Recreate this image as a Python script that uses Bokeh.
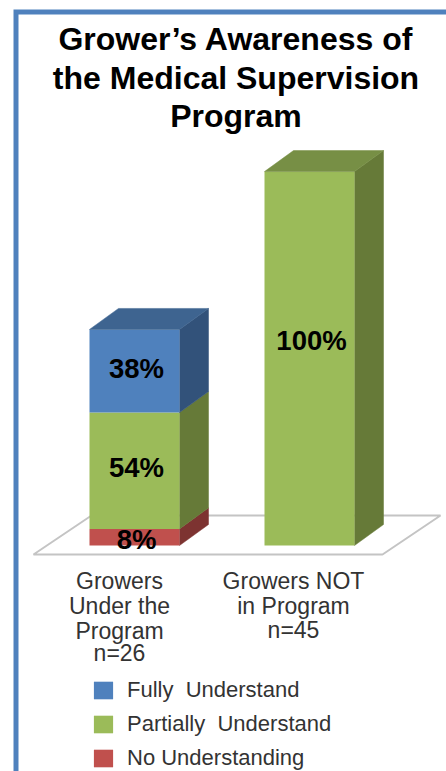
from bokeh.plotting import figure
from bokeh.models import Range1d, Legend, LegendItem
from bokeh.core.properties import value
from bokeh.embed import file_html
from bokeh.resources import INLINE

# ---- data (bar heights are grower counts; labels are shares of each group)
categories = ["Growers Under the Program n=26", "Growers NOT in Program n=45"]
no_understanding = [2, 0]
partially = [14, 45]
fully = [10, 0]
share_no = ["8%", ""]
share_part = ["54%", "100%"]
share_full = ["38%", ""]
title_lines = ["Grower\u2019s Awareness of", "the Medical Supervision", "Program"]
cat_label_lines = [["Growers", "Under the", "Program", "n=26"], ["Growers NOT", "in Program", "n=45"]]
legend_labels = ["Fully  Understand", "Partially  Understand", "No Understanding"]

# ---- layout constants: page pixels mapped to data units
W, H = 446, 771
ORIGIN = 0
PX_X = 175.0     # px per category
PX_Y = 8.31      # px per grower
X0, Y0 = 134.0, 545.0  # page px of category 0 centre, baseline


def dx(px):
    return (px - X0) / PX_X


def dy(py):
    return (Y0 - py) / PX_Y


BAR_W = 90 / PX_X
DEPTH_X = 29 / PX_X
DEPTH_Y = 21 / PX_Y

p = figure(width=W, height=H, output_backend="svg", toolbar_location=None,
           x_range=Range1d(dx(ORIGIN), dx(ORIGIN + W)), y_range=Range1d(dy(ORIGIN + H), dy(ORIGIN)),
           min_border=0, outline_line_color=None, background_fill_color="white",
           border_fill_color="white")
p.axis.visible = False
p.grid.visible = False

# page frame
p.line([dx(15.5), dx(15.5), dx(446)], [dy(771), dy(11.5), dy(11.5)],
       line_color="#4f81bd", line_width=5, line_join="miter")

# floor plate
p.patch([dx(33), dx(382), dx(440), dx(91)], [dy(554), dy(554), dy(515), dy(515)],
        fill_color="white", line_color="#c4c4c4", line_width=2)

series = [
    (no_understanding, "#c0504d", "#7d3331"),
    (partially, "#9bbb59", "#667a38"),
    (fully, "#4f81bd", "#32527a"),
]
xs = list(range(len(categories)))
bottom = [0.0, 0.0]
renderers = []
for vals, front, side in series:
    tops = [b + v for b, v in zip(bottom, vals)]
    side_x, side_y = [], []
    for i in xs:
        if vals[i] == 0:
            continue
        r = i + BAR_W / 2
        side_x.append([r, r + DEPTH_X, r + DEPTH_X, r])
        side_y.append([bottom[i], bottom[i] + DEPTH_Y, tops[i] + DEPTH_Y, tops[i]])
    p.patches(side_x, side_y, fill_color=side, line_color=side, line_width=0.5)
    renderers.append(p.vbar(x=xs, bottom=bottom, top=tops, width=BAR_W, fill_color=front,
                            line_color=None))
    bottom = tops

# top faces
totals = bottom
top_colors = ["#3e6490", "#778f45"]
for i in xs:
    l, r = i - BAR_W / 2, i + BAR_W / 2
    p.patch([l, r, r + DEPTH_X, l + DEPTH_X],
            [totals[i], totals[i], totals[i] + DEPTH_Y, totals[i] + DEPTH_Y],
            fill_color=top_colors[i], line_color=top_colors[i], line_width=0.5)

# data labels
label_font = dict(text_font=value("Liberation Sans"), text_font_style="bold", text_font_size="27.5px",
                  text_color="black", text_align="center", text_baseline="middle")
LABEL_NUDGE_X = 2 / PX_X
mid_no = [v / 2 for v in no_understanding]
mid_part = [n + v / 2 for n, v in zip(no_understanding, partially)]
mid_full = [n + q + v / 2 for n, q, v in zip(no_understanding, partially, fully)]
for labels, mids in ((share_no, mid_no), (share_part, mid_part), (share_full, mid_full)):
    for i in xs:
        if labels[i]:
            nudge = {"100%": 18 / PX_Y, "8%": -2 / PX_Y, "54%": 3 / PX_Y, "38%": 2.5 / PX_Y}[labels[i]]
            p.text([i + LABEL_NUDGE_X], [mids[i] + nudge], text=[labels[i]], **label_font)

# title
for line, py in zip(title_lines, (38, 77, 115)):
    p.text([dx(235.5)], [dy(py)], text=[line], text_font=value("Liberation Sans"), text_font_style="bold",
           text_font_size="32px", text_color="black", text_align="center", text_baseline="middle")

# category labels
cat_pys = [(580, 605, 630, 652), (580, 605, 629)]
cat_cx = [119, 293]
for lines, pys, cx in zip(cat_label_lines, cat_pys, cat_cx):
    for line, py in zip(lines, pys):
        p.text([dx(cx)], [dy(py)], text=[line], text_font=value("Liberation Sans"), text_font_size="23px",
               text_color="#333333", text_align="center", text_baseline="middle")

# legend
legend = Legend(items=[LegendItem(label=legend_labels[0], renderers=[renderers[2]]),
                       LegendItem(label=legend_labels[1], renderers=[renderers[1]]),
                       LegendItem(label=legend_labels[2], renderers=[renderers[0]])],
                location=(91 - 8 + 8, 0), orientation="vertical",
                background_fill_alpha=0, border_line_color=None,
                glyph_width=24, glyph_height=22, label_height=22, spacing=12 - 4,
                label_standoff=12, margin=0, padding=8,
                label_text_font="Liberation Sans", label_text_font_size="22px",
                label_text_color="#333333")
p.add_layout(legend, "center")

open("out.html", "w").write(file_html(p, INLINE))
